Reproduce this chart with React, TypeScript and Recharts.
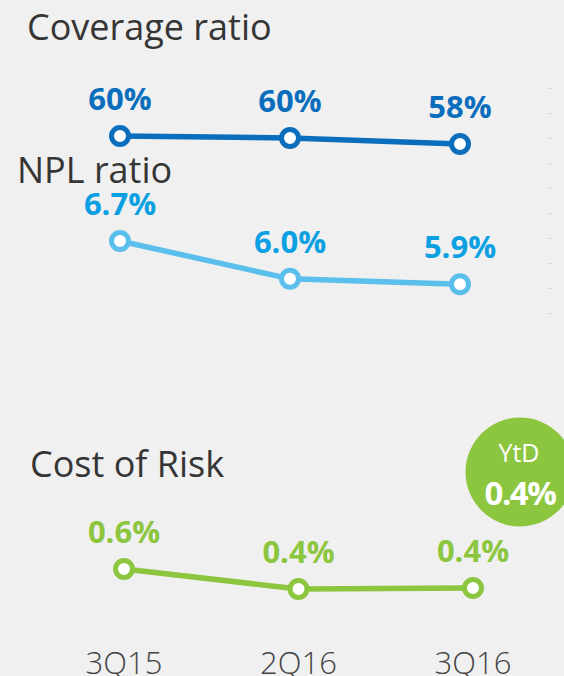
import React from "react";
import { LineChart, Line, XAxis, YAxis, LabelList } from "recharts";

const quarters = ["3Q15", "2Q16", "3Q16"];
const coverage = [60.4, 59.9, 58.4];
const coverageLabels = ["60%", "60%", "58%"];
const npl = [6.7, 6.0, 5.9];
const nplLabels = ["6.7%", "6.0%", "5.9%"];
const costOfRisk = [0.6, 0.4, 0.41];
const costLabels = ["0.6%", "0.4%", "0.4%"];
const ytdLabel = "YtD";
const ytdValue = "0.4%";

const DARK_BLUE = "#0a6ebd";
const LIGHT_BLUE = "#5bbfec";
const LIGHT_BLUE_TEXT = "#0aa0e2";
const GREEN = "#8cc63f";
const FONT = "'Open Sans', 'Noto Sans', sans-serif";

const topData = quarters.map((q, i) => ({
  q,
  coverage: coverage[i],
  coverageLabel: coverageLabels[i],
  npl: npl[i],
  nplLabel: nplLabels[i],
}));

const bottomData = quarters.map((q, i) => ({
  q,
  cor: costOfRisk[i],
  corLabel: costLabels[i],
}));

const makeLabel = (color: string) => (p: any) => {
  const { x, y, value, index } = p;
  return (
    <text
      key={`l-${index}-${value}`}
      x={x}
      y={y - 26}
      textAnchor="middle"
      fontFamily={FONT}
      fontWeight={700}
      fontSize={31}
      fill={color}
    >
      {value}
    </text>
  );
};

const renderTick = (p: any) => {
  const { x, payload } = p;
  return (
    <text
      x={x}
      y={334}
      textAnchor="middle"
      fontFamily={FONT}
      fontWeight={300}
      fontSize={31}
      fill="#444444"
    >
      {payload.value}
    </text>
  );
};

export default function App() {
  return (
    <div
      style={{
        position: "absolute",
        left: 0,
        top: 0,
        width: 564,
        height: 676,
        background: "#f0f0f0",
        overflow: "hidden",
      }}
    >
      <div style={{ position: "absolute", left: 0, top: 0 }}>
        <LineChart
          width={564}
          height={340}
          data={topData}
          margin={{ top: 0, right: 104, left: 120, bottom: 0 }}
        >
          <XAxis dataKey="q" hide />
          <YAxis yAxisId="cov" hide domain={[9.4, 94.4]} allowDataOverflow />
          <YAxis yAxisId="npl" hide domain={[4.867, 11.163]} allowDataOverflow />
          <Line
            yAxisId="cov"
            dataKey="coverage"
            type="linear"
            stroke={DARK_BLUE}
            strokeWidth={5.5}
            dot={{ r: 8.5, strokeWidth: 5, fill: "#ffffff", stroke: DARK_BLUE }}
            isAnimationActive={false}
          >
            <LabelList dataKey="coverageLabel" content={makeLabel(DARK_BLUE)} />
          </Line>
          <Line
            yAxisId="npl"
            dataKey="npl"
            type="linear"
            stroke={LIGHT_BLUE}
            strokeWidth={5.5}
            dot={{ r: 8.5, strokeWidth: 5, fill: "#ffffff", stroke: LIGHT_BLUE }}
            isAnimationActive={false}
          >
            <LabelList dataKey="nplLabel" content={makeLabel(LIGHT_BLUE_TEXT)} />
          </Line>
        </LineChart>
      </div>
      <div style={{ position: "absolute", left: 0, top: 340 }}>
        <LineChart
          width={564}
          height={336}
          data={bottomData}
          margin={{ top: 0, right: 91, left: 124, bottom: 0 }}
        >
          <XAxis
            dataKey="q"
            axisLine={false}
            tickLine={false}
            height={60}
            interval={0}
            tick={renderTick}
          />
          <YAxis hide domain={[0.13, 2.89]} allowDataOverflow />
          <Line
            dataKey="cor"
            type="linear"
            stroke={GREEN}
            strokeWidth={5.5}
            dot={{ r: 8.5, strokeWidth: 5, fill: "#ffffff", stroke: GREEN }}
            isAnimationActive={false}
          >
            <LabelList dataKey="corLabel" content={makeLabel(GREEN)} />
          </Line>
        </LineChart>
      </div>
      <svg
        width={564}
        height={676}
        style={{ position: "absolute", left: 0, top: 0, pointerEvents: "none" }}
      >
        <line
          x1={550}
          x2={550}
          y1={88}
          y2={318}
          stroke="#dcdcdc"
          strokeWidth={4}
          strokeDasharray="1 24"
        />
        <text x={27} y={40} fontFamily={FONT} fontSize={36} fill="#353535">
          Coverage ratio
        </text>
        <text x={17} y={183} fontFamily={FONT} fontSize={36} fill="#353535">
          NPL ratio
        </text>
        <text x={30} y={477} fontFamily={FONT} fontSize={36} fill="#353535">
          Cost of Risk
        </text>
        <circle cx={520} cy={472} r={54.5} fill={GREEN} />
        <text
          x={519}
          y={462}
          textAnchor="middle"
          fontFamily={FONT}
          fontSize={25}
          fill="#ffffff"
        >
          {ytdLabel}
        </text>
        <text
          x={520}
          y={505}
          textAnchor="middle"
          fontFamily={FONT}
          fontWeight={700}
          fontSize={33}
          letterSpacing={-1.5}
          fill="#ffffff"
        >
          {ytdValue}
        </text>
      </svg>
    </div>
  );
}
